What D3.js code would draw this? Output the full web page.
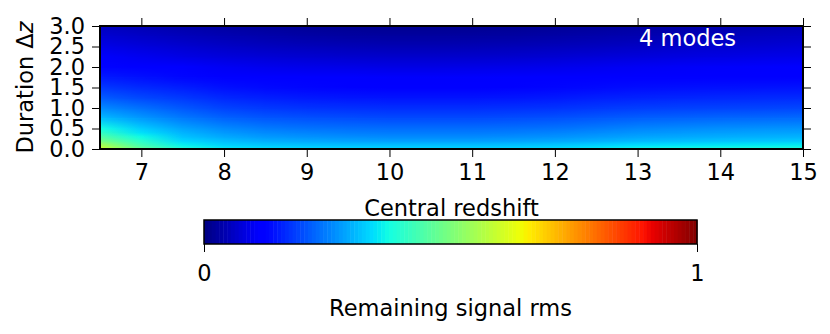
<!DOCTYPE html>
<html>
<head>
<meta charset="utf-8">
<script src="https://cdn.jsdelivr.net/npm/d3@7"></script>
<style>
  html, body { margin: 0; padding: 0; background: #fff; }
  svg { display: block; }
  text { font-family: "DejaVu Sans", sans-serif; }
</style>
</head>
<body>
<svg id="chart" width="830" height="334"></svg>
<script>
// ---- Data ----
const redshifts = [6.5, 7, 7.5, 8, 8.5, 9, 9.5, 10, 10.5, 11, 11.5, 12, 12.5, 13, 13.5, 14, 14.5, 15];
const durations = [0, 0.1, 0.2, 0.3, 0.4, 0.5, 0.75, 1.0, 1.25, 1.5, 1.75, 2.0, 2.25, 2.5, 2.75, 3.0];
// remaining signal rms, one row per duration, one value per redshift
const rms = [
  [0.60,0.47,0.39,0.355,0.345,0.34,0.338,0.336,0.336,0.336,0.338,0.343,0.355,0.37,0.378,0.385,0.388,0.39],
  [0.55,0.43,0.36,0.33,0.318,0.313,0.31,0.31,0.31,0.31,0.312,0.318,0.328,0.34,0.345,0.35,0.353,0.355],
  [0.49,0.40,0.335,0.31,0.295,0.288,0.283,0.28,0.28,0.28,0.283,0.288,0.296,0.305,0.31,0.315,0.318,0.32],
  [0.45,0.37,0.315,0.29,0.275,0.268,0.263,0.26,0.26,0.26,0.263,0.268,0.276,0.285,0.29,0.295,0.298,0.30],
  [0.41,0.345,0.30,0.275,0.26,0.253,0.248,0.245,0.245,0.245,0.248,0.253,0.261,0.27,0.275,0.28,0.283,0.285],
  [0.375,0.325,0.285,0.26,0.246,0.238,0.234,0.232,0.232,0.232,0.234,0.238,0.246,0.255,0.26,0.265,0.268,0.27],
  [0.31,0.275,0.245,0.222,0.21,0.204,0.2,0.198,0.198,0.198,0.2,0.204,0.211,0.218,0.222,0.226,0.228,0.23],
  [0.26,0.235,0.21,0.19,0.18,0.174,0.171,0.169,0.169,0.169,0.171,0.174,0.18,0.185,0.188,0.19,0.192,0.194],
  [0.215,0.195,0.18,0.163,0.154,0.149,0.146,0.144,0.144,0.144,0.146,0.149,0.154,0.158,0.161,0.163,0.165,0.166],
  [0.18,0.165,0.153,0.14,0.133,0.129,0.126,0.125,0.125,0.125,0.126,0.129,0.133,0.137,0.139,0.141,0.142,0.143],
  [0.15,0.14,0.13,0.122,0.116,0.112,0.11,0.108,0.108,0.109,0.11,0.113,0.116,0.119,0.121,0.123,0.124,0.125],
  [0.128,0.118,0.11,0.101,0.095,0.092,0.09,0.088,0.088,0.089,0.091,0.094,0.098,0.102,0.105,0.107,0.109,0.11],
  [0.108,0.098,0.088,0.08,0.075,0.071,0.068,0.066,0.066,0.067,0.069,0.072,0.076,0.08,0.084,0.087,0.09,0.092],
  [0.09,0.08,0.07,0.062,0.056,0.051,0.048,0.046,0.046,0.047,0.049,0.052,0.056,0.061,0.066,0.07,0.073,0.076],
  [0.072,0.062,0.052,0.044,0.038,0.033,0.03,0.028,0.028,0.029,0.031,0.034,0.038,0.043,0.048,0.053,0.057,0.06],
  [0.055,0.046,0.037,0.03,0.024,0.019,0.016,0.014,0.014,0.015,0.017,0.02,0.024,0.029,0.034,0.039,0.043,0.046]
];
const xTicks = [7, 8, 9, 10, 11, 12, 13, 14, 15];
const yTicks = [0, 0.5, 1.0, 1.5, 2.0, 2.5, 3.0];
const cbTicks = [0, 1];
const xLabel = "Central redshift";
const cbLabel = "Remaining signal rms";
const panelLabel = "4 modes";

// ---- Jet colormap ----
const rS = d3.scaleLinear().domain([0, 0.35, 0.66, 0.89, 1]).range([0, 0, 1, 1, 0.5]).clamp(true);
const gS = d3.scaleLinear().domain([0, 0.125, 0.375, 0.64, 0.91, 1]).range([0, 0, 1, 1, 0, 0]).clamp(true);
const bS = d3.scaleLinear().domain([0, 0.11, 0.34, 0.65, 1]).range([0.5, 1, 1, 0, 0]).clamp(true);
const jet = v => d3.rgb(Math.round(rS(v) * 255), Math.round(gS(v) * 255), Math.round(bS(v) * 255)).toString();

// ---- Layout ----
const svg = d3.select("#chart");
const FS = 22.5;
const x = d3.scaleLinear().domain([6.5, 15]).range([100, 803]);
const y = d3.scaleLinear().domain([0, 3]).range([149, 26]);
const xFrac = d3.scaleLinear().domain(x.domain()).range([0, 1]);

const defs = svg.append("defs");
defs.append("clipPath").attr("id", "plotClip")
  .append("rect").attr("x", 100).attr("y", 26).attr("width", 703).attr("height", 123);

// one horizontal gradient per duration row, stops at each redshift
durations.forEach((dz, j) => {
  const g = defs.append("linearGradient").attr("id", "row" + j)
    .attr("gradientUnits", "userSpaceOnUse")
    .attr("x1", x.range()[0]).attr("x2", x.range()[1]).attr("y1", 0).attr("y2", 0);
  g.selectAll("stop").data(redshifts).join("stop")
    .attr("offset", zc => xFrac(zc))
    .attr("stop-color", (zc, i) => jet(rms[j][i]));
});
// vertical fade mask (opaque at top, transparent at bottom)
const fade = defs.append("linearGradient").attr("id", "vfade")
  .attr("x1", 0).attr("x2", 0).attr("y1", 0).attr("y2", 1);
fade.append("stop").attr("offset", 0).attr("stop-color", "#fff");
fade.append("stop").attr("offset", 1).attr("stop-color", "#000");
defs.append("mask").attr("id", "vmask").attr("maskContentUnits", "objectBoundingBox")
  .append("rect").attr("x", 0).attr("y", 0).attr("width", 1).attr("height", 1)
  .attr("fill", "url(#vfade)");

const bands = d3.range(durations.length - 1).map(j => ({ j, lo: durations[j], hi: durations[j + 1] }));
const heat = svg.append("g").attr("clip-path", "url(#plotClip)");
heat.selectAll("rect.base").data(bands).join("rect").attr("class", "base")
  .attr("x", x.range()[0]).attr("width", x.range()[1] - x.range()[0])
  .attr("y", d => y(d.hi) - 0.3).attr("height", d => y(d.lo) - y(d.hi) + 0.8)
  .attr("fill", d => "url(#row" + d.j + ")");
heat.selectAll("rect.over").data(bands).join("rect").attr("class", "over")
  .attr("x", x.range()[0]).attr("width", x.range()[1] - x.range()[0])
  .attr("y", d => y(d.hi)).attr("height", d => y(d.lo) - y(d.hi))
  .attr("fill", d => "url(#row" + (d.j + 1) + ")")
  .attr("mask", "url(#vmask)");

// axes
function styleAxis(g, labels) {
  g.select(".domain").remove();
  g.selectAll(".tick line").attr("stroke", "#000").attr("stroke-width", 1);
  g.selectAll(".tick text").attr("fill", "#000").style("font-size", FS + "px")
    .style("font-family", "'DejaVu Sans', sans-serif");
  if (!labels) g.selectAll(".tick text").remove();
}
svg.append("g").attr("transform", "translate(0,149)")
  .call(d3.axisBottom(x).tickValues(xTicks).tickSize(8).tickPadding(7).tickFormat(d3.format("d")))
  .call(g => styleAxis(g, true));
svg.append("g").attr("transform", "translate(0,26)")
  .call(d3.axisTop(x).tickValues(xTicks).tickSize(8))
  .call(g => styleAxis(g, false));
svg.append("g").attr("transform", "translate(100,0)")
  .call(d3.axisLeft(y).tickValues(yTicks).tickSize(8).tickPadding(7).tickFormat(d3.format(".1f")))
  .call(g => styleAxis(g, true));
svg.append("g").attr("transform", "translate(803,0)")
  .call(d3.axisRight(y).tickValues(yTicks).tickSize(8))
  .call(g => styleAxis(g, false));

// frame
svg.append("rect").attr("x", 100).attr("y", 26).attr("width", 703).attr("height", 123)
  .attr("fill", "none").attr("stroke", "#000").attr("stroke-width", 2);

// labels
svg.append("text").attr("x", 639).attr("y", 46).attr("fill", "#fff")
  .style("font-size", FS + "px").text(panelLabel);

const yl = svg.append("text")
  .attr("transform", "translate(33,87.5) rotate(-90)")
  .attr("text-anchor", "middle").attr("fill", "#000").style("font-size", FS + "px");
yl.append("tspan").text("Duration \u0394");
yl.append("tspan").style("font-style", "italic").text("z");

svg.append("text").attr("x", 451.5).attr("y", 216).attr("text-anchor", "middle")
  .attr("fill", "#000").style("font-size", FS + "px").text(xLabel);

// colorbar
const cb = d3.scaleLinear().domain([0, 1]).range([204, 697]);
const nSteps = 128;
const steps = d3.range(nSteps).map(k => ({ a: k / nSteps, b: (k + 1) / nSteps, v: (k + 0.5) / nSteps }));
svg.append("g").selectAll("rect").data(steps).join("rect")
  .attr("x", d => cb(d.a)).attr("y", 220)
  .attr("width", d => cb(d.b) - cb(d.a) + 0.5).attr("height", 24)
  .attr("fill", d => jet(d.v));
svg.append("rect").attr("x", 204).attr("y", 220).attr("width", 493).attr("height", 24)
  .attr("fill", "none").attr("stroke", "#000").attr("stroke-width", 1.5);
svg.append("g").attr("transform", "translate(0,244)")
  .call(d3.axisBottom(cb).tickValues(cbTicks).tickSize(8).tickPadding(13).tickFormat(d3.format("d")))
  .call(g => styleAxis(g, true));
svg.append("text").attr("x", 450.5).attr("y", 316).attr("text-anchor", "middle")
  .attr("fill", "#000").style("font-size", FS + "px").text(cbLabel);
</script>
</body>
</html>
